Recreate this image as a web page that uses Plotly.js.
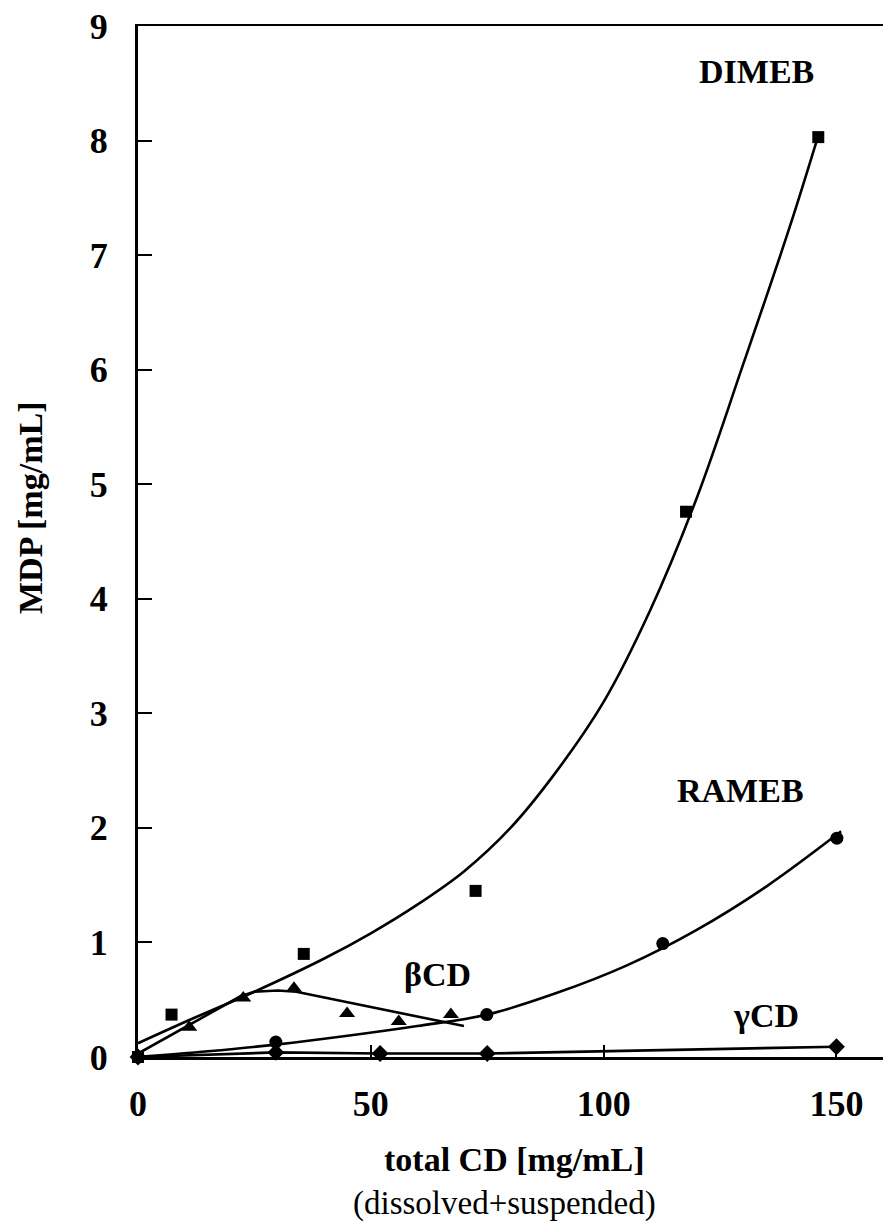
<!DOCTYPE html>
<html>
<head>
<meta charset="utf-8">
<script src="https://cdn.plot.ly/plotly-3.0.1.min.js"></script>
<style>
html,body{margin:0;padding:0;background:#fff;}
#chart{width:883px;height:1222px;}
</style>
</head>
<body>
<div id="chart"></div>
<script>
// Measured data points
const dimebX = [0, 7.2, 35.6, 72.5, 117.7, 146.1];
const dimebY = [0, 0.37, 0.9, 1.45, 4.76, 8.03];
const ramebX = [0, 29.6, 74.9, 112.7, 150.1];
const ramebY = [0, 0.13, 0.37, 0.99, 1.91];
const bcdX = [11, 22.6, 33.5, 44.9, 56, 67.2];
const bcdY = [0.26, 0.515, 0.6, 0.38, 0.31, 0.37];
const gcdX = [0, 29.6, 52, 75, 150];
const gcdY = [0, 0.04, 0.03, 0.03, 0.09];

// Fitted curves
const dimebFitX = [0, 12, 25, 40, 50, 60, 70, 80, 90, 100, 110, 120, 130, 140, 146];
const dimebFitY = [0.12, 0.34, 0.57, 0.86, 1.08, 1.33, 1.62, 2.0, 2.5, 3.1, 3.9, 4.88, 6.05, 7.25, 8.03];
const ramebFitX = [0, 15, 30, 45, 60, 75, 90, 105, 120, 135, 151];
const ramebFitY = [0, 0.05, 0.11, 0.185, 0.27, 0.37, 0.56, 0.8, 1.11, 1.49, 1.97];
const bcdFitX = [0, 22, 25, 30, 34, 70];
const bcdFitY = [0.03, 0.53, 0.57, 0.58, 0.57, 0.27];

const yTicks = [0, 1, 2, 3, 4, 5, 6, 7, 8, 9];
const xTicks = [0, 50, 100, 150];

const labels = [
  {text: 'DIMEB', x: 132.8, y: 8.6},
  {text: 'RAMEB', x: 129.4, y: 2.33},
  {text: 'βCD', x: 64.4, y: 0.72},
  {text: 'γCD', x: 134.8, y: 0.36}
];

const serif = 'Liberation Serif, Times New Roman, serif';
const lineStyle = {color: '#000', width: 2.6};

const traces = [
  {x: dimebFitX, y: dimebFitY, mode: 'lines', line: Object.assign({shape: 'spline', smoothing: 1}, lineStyle), hoverinfo: 'skip'},
  {x: ramebFitX, y: ramebFitY, mode: 'lines', line: Object.assign({shape: 'spline', smoothing: 1}, lineStyle), hoverinfo: 'skip'},
  {x: bcdFitX, y: bcdFitY, mode: 'lines', line: lineStyle, hoverinfo: 'skip'},
  {x: gcdX, y: gcdY, mode: 'lines+markers', line: lineStyle, marker: {symbol: 'diamond', size: 13, color: '#000'}, cliponaxis: false},
  {x: dimebX, y: dimebY, mode: 'markers', marker: {symbol: 'square', size: 12, color: '#000'}, cliponaxis: false},
  {x: ramebX, y: ramebY, mode: 'markers', marker: {symbol: 'circle', size: 13, color: '#000'}, cliponaxis: false},
  {x: bcdX, y: bcdY, mode: 'markers', marker: {symbol: 'triangle-up', size: 14, color: '#000'}, cliponaxis: false}
];

const annotations = labels.map(l => ({
  text: '<b>' + l.text + '</b>', x: l.x, y: l.y, xref: 'x', yref: 'y',
  showarrow: false, xanchor: 'center', yanchor: 'middle',
  font: {family: serif, size: 34, color: '#000'}
}));
annotations.push({
  text: '<b>total CD [mg/mL]</b>', xref: 'paper', yref: 'paper', x: 0.5047, y: 0,
  yshift: -102, showarrow: false, xanchor: 'center', yanchor: 'middle',
  font: {family: serif, size: 34, color: '#000'}
});
annotations.push({
  text: '(dissolved+suspended)', xref: 'paper', yref: 'paper', x: 0.4926, y: 0,
  yshift: -146, showarrow: false, xanchor: 'center', yanchor: 'middle',
  font: {family: serif, size: 33, color: '#000'}
});
annotations.push({
  text: '<b>MDP [mg/mL]</b>', xref: 'paper', yref: 'paper', x: 0, y: 0.5325,
  xshift: -107, textangle: -90, showarrow: false, xanchor: 'center', yanchor: 'middle',
  font: {family: serif, size: 34, color: '#000'}
});

const layout = {
  width: 883, height: 1222,
  margin: {l: 138, r: 0, t: 26, b: 165},
  paper_bgcolor: '#fff', plot_bgcolor: '#fff',
  showlegend: false,
  xaxis: {
    range: [0, 160], tickvals: xTicks, ticktext: xTicks.map(String),
    ticks: 'inside', ticklen: 12, tickwidth: 2, tickcolor: '#000',
    showline: true, linecolor: '#000', linewidth: 2.5, mirror: true,
    showgrid: false, zeroline: false, ticklabelstandoff: 13,
    tickfont: {family: serif, size: 36, color: '#000', weight: 'bold'}
  },
  yaxis: {
    range: [0, 9], tickvals: yTicks, ticktext: yTicks.map(String),
    ticks: 'inside', ticklen: 14, tickwidth: 2, tickcolor: '#000',
    showline: true, linecolor: '#000', linewidth: 3, mirror: false,
    showgrid: false, zeroline: false, ticklabelstandoff: 20,
    tickfont: {family: serif, size: 36, color: '#000', weight: 'bold'}
  },
  annotations: annotations
};

Plotly.newPlot('chart', traces, layout, {displayModeBar: false, staticPlot: true});
</script>
</body>
</html>
